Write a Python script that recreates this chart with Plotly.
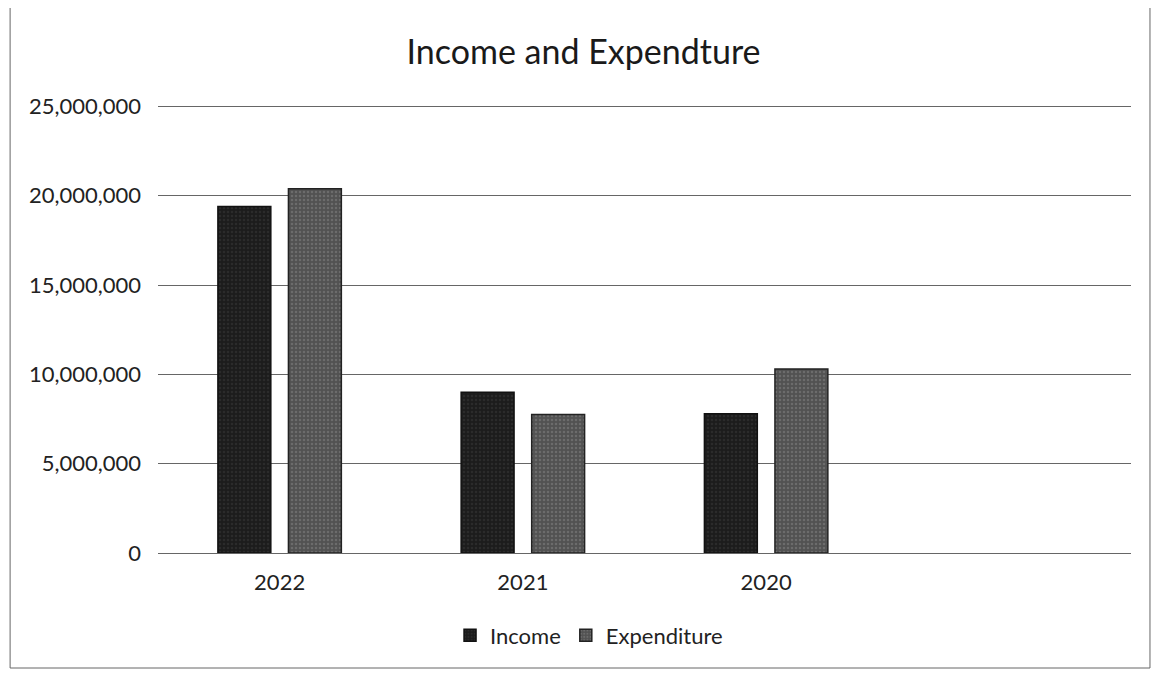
import plotly.graph_objects as go

categories = ["2022", "2021", "2020", " "]
income = [19400000, 9000000, 7800000, None]
expenditure = [20400000, 7750000, 10300000, None]
y_ticks = [0, 5000000, 10000000, 15000000, 20000000, 25000000]

fig = go.Figure()
fig.add_trace(go.Bar(name="Income", x=categories, y=income,
                     marker=dict(color="#1c1c1c", line=dict(color="#111111", width=1.5),
                                 pattern=dict(shape=".", fgcolor="#3a3a3a", size=4, solidity=0.3))))
fig.add_trace(go.Bar(name="Expenditure", x=categories, y=expenditure,
                     marker=dict(color="#525252", line=dict(color="#222222", width=1.5),
                                 pattern=dict(shape=".", fgcolor="#858585", size=4, solidity=0.3))))

fig.update_layout(
    width=1151, height=665,
    paper_bgcolor="white", plot_bgcolor="white",
    font=dict(family="Lato, Open Sans, sans-serif", color="#222222"),
    title=dict(text="Income and Expendture", x=0.5, xanchor="center", y=(665 - 44) / 665, yanchor="middle",
               font=dict(size=34, color="#1a1a1a")),
    margin=dict(l=150, r=28, t=94, b=120),
    barmode="group", bargap=0.42, bargroupgap=0.25,
    showlegend=True,
    legend=dict(orientation="h", x=0.443, xanchor="center", y=-0.183, yanchor="middle",
                font=dict(size=22, color="#222222"), itemwidth=30),
    shapes=[dict(type="rect", xref="paper", yref="paper", x0=-0.152, x1=1.0195, y0=-0.255, y1=1.215,
                 line=dict(color="#666666", width=1))],
)
fig.update_xaxes(showgrid=False, showline=False, ticks="", tickfont=dict(size=22, color="#222222"),
                 categoryorder="array", categoryarray=categories, ticklabelstandoff=14)
fig.update_yaxes(range=[0, 25250000], tickvals=y_ticks, tickformat=",d",
                 showgrid=True, gridcolor="#666666", gridwidth=1, zeroline=True, zerolinecolor="#666666",
                 zerolinewidth=1, showline=False, ticks="", ticklabelstandoff=16,
                 tickfont=dict(size=22, color="#222222"))

fig.write_html("out.html")
